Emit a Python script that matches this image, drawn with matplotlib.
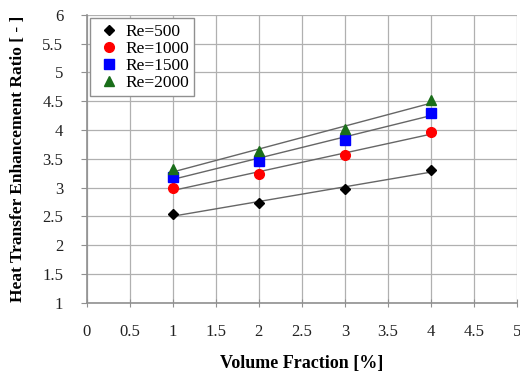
import numpy as np
import matplotlib
matplotlib.use("Agg")
import matplotlib.pyplot as plt

plt.rcParams['font.family'] = ['Liberation Serif', 'DejaVu Serif']

# data
volume_fraction = [1, 2, 3, 4]
re_500 = [2.54, 2.73, 2.97, 3.31]
re_1000 = [2.99, 3.24, 3.56, 3.97]
re_1500 = [3.19, 3.47, 3.83, 4.30]
re_2000 = [3.32, 3.63, 4.01, 4.52]

series = [
    ("Re=500", re_500, "D", "black", 5),
    ("Re=1000", re_1000, "o", "#ff0000", 7),
    ("Re=1500", re_1500, "s", "#0000ff", 7),
    ("Re=2000", re_2000, "^", "#1a6e1a", 7),
]

fig = plt.figure(figsize=(5.2, 3.81), dpi=100)
ax = fig.add_axes([0.167, 0.205, 0.827, 0.756])

x = np.array(volume_fraction)
for label, y, marker, color, ms in series:
    # linear trend line
    k, b = np.polyfit(x, y, 1)
    ax.plot(x, k * x + b, color="#666666", linewidth=1, zorder=2)
    ax.plot(x, y, linestyle="none", marker=marker, color=color,
            markersize=ms, label=label, zorder=3)

ax.set_xlim(0, 5)
ax.set_ylim(1, 6)
ax.set_xticks(np.arange(0, 5.01, 0.5))
ax.set_yticks(np.arange(1, 6.01, 0.5))
ax.set_xticklabels(["0", "0.5", "1", "1.5", "2", "2.5", "3", "3.5", "4", "4.5", "5"])
ax.set_yticklabels(["1", "1.5", "2", "2.5", "3", "3.5", "4", "4.5", "5", "5.5", "6"])
ax.grid(True, color="#b0b0b0", linewidth=0.9)
ax.set_axisbelow(True)

for side in ["top", "right"]:
    ax.spines[side].set_visible(False)
for side in ["left", "bottom"]:
    ax.spines[side].set_color("#909090")
    ax.spines[side].set_linewidth(1.2)

ax.tick_params(axis="x", direction="inout", length=6, color="#909090",
               labelsize=12, pad=12, labelcolor="#222222")
ax.tick_params(axis="y", direction="out", length=4, color="#909090",
               labelsize=12, pad=13, labelcolor="#222222")

ax.set_xlabel("Volume Fraction [%]", fontsize=13, fontweight="bold", labelpad=11)
ax.set_ylabel("Heat Transfer Enhancement Ratio [ - ]", fontsize=12.5,
              fontweight="bold", labelpad=12)

leg = ax.legend(loc="upper left", fontsize=12.5, fancybox=False,
                edgecolor="#909090", handletextpad=0.2, handlelength=1.5,
                borderpad=0.3, labelspacing=0.05, borderaxespad=0.2,
                framealpha=1)
leg.get_frame().set_linewidth(1.0)

fig.savefig("out.png", dpi=100)
